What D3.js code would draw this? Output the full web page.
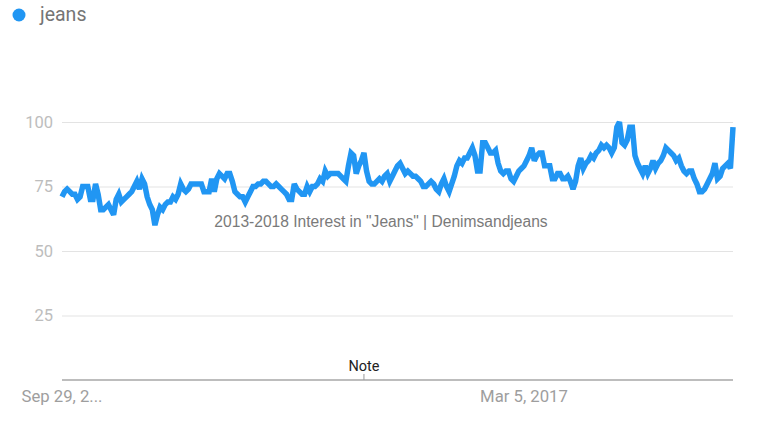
<!DOCTYPE html>
<html>
<head>
<meta charset="utf-8">
<script src="https://cdnjs.cloudflare.com/ajax/libs/d3/7.8.5/d3.min.js"></script>
<style>
  body { margin: 0; background: #fff; }
  #chart { width: 768px; height: 444px; }
  text { font-family: Roboto, "Noto Sans", sans-serif; }
</style>
</head>
<body>
<div id="chart"></div>
<script>
// weekly interest values, starting Sep 29, 2013
var seriesName = "jeans";
var startDate = "2013-09-29";
var weeklyValues = [
  71, 73, 74, 73, 72, 72, 70, 71, 75, 75,
  75, 70, 70, 76, 72, 66, 66, 67, 68, 66,
  64, 70, 72, 69, 70, 71, 72, 73, 75, 77,
  74, 78, 76, 71, 68, 66, 60, 64, 67, 66,
  68, 69, 69, 71, 70, 72, 76, 74, 73, 74,
  76, 76, 76, 76, 76, 73, 73, 73, 78, 73,
  78, 80, 79, 78, 80, 80, 77, 73, 72, 71,
  71, 69, 71, 73, 75, 75, 76, 76, 77, 77,
  76, 75, 75, 76, 75, 74, 73, 72, 70, 70,
  76, 74, 73, 72, 72, 75, 73, 75, 75, 76,
  78, 77, 81, 79, 80, 80, 80, 80, 79, 78,
  77, 83, 88, 87, 80, 83, 85, 88, 81, 77,
  76, 76, 77, 78, 77, 79, 80, 77, 79, 81,
  83, 84, 82, 80, 81, 80, 79, 79, 78, 77,
  75, 75, 76, 77, 76, 74, 73, 76, 78, 75,
  73, 76, 79, 83, 85, 84, 86, 86, 88, 90,
  87, 81, 81, 92, 92, 90, 88, 88, 89, 84,
  81, 80, 81, 81, 78, 77, 79, 81, 82, 83,
  85, 87, 90, 85, 87, 88, 88, 83, 83, 83,
  78, 78, 80, 80, 78, 78, 79, 77, 74, 77,
  83, 86, 82, 84, 85, 87, 86, 88, 89, 91,
  90, 91, 90, 88, 90, 98, 100, 92, 91, 93,
  98, 98, 87, 84, 82, 80, 83, 80, 82, 85,
  82, 84, 85, 87, 90, 89, 88, 87, 85, 86,
  83, 81, 80, 81, 81, 78, 76, 73, 73, 74,
  76, 78, 80, 84, 78, 79, 82, 83, 84, 82,
  98
];
var yTicks = [25, 50, 75, 100];
var xTickDates = ["2013-09-29", "2017-03-05"];
var xTickLabels = ["Sep 29, 2...", "Mar 5, 2017"];
var noteDate = "2015-12-27";
var noteLabel = "Note";
var watermark = "2013-2018 Interest in \"Jeans\" | Denimsandjeans";

var parseDate = d3.timeParse("%Y-%m-%d");
var first = parseDate(startDate);
var data = weeklyValues.map(function(v, i) {
  return { date: d3.timeWeek.offset(first, i), value: v };
});

var width = 768, height = 444;
var margin = { top: 122, right: 35, bottom: 64, left: 62 };
var lineColor = "#2196f3";

var svg = d3.select("#chart").append("svg")
  .attr("width", width)
  .attr("height", height);

var xScale = d3.scaleTime()
  .domain(d3.extent(data, function(d) { return d.date; }))
  .range([margin.left, width - margin.right]);

var yScale = d3.scaleLinear()
  .domain([0, 100])
  .range([height - margin.bottom, margin.top]);

// legend
svg.append("circle")
  .attr("cx", 19)
  .attr("cy", 15)
  .attr("r", 6.5)
  .style("fill", lineColor);
svg.append("text")
  .attr("x", 40)
  .attr("y", 21)
  .style("font-size", "19.5px")
  .style("fill", "#757575")
  .text(seriesName);

// horizontal grid + y labels
var yAxis = d3.axisLeft(yScale)
  .tickValues(yTicks)
  .tickSize(-(width - margin.right - margin.left))
  .tickPadding(9);

var gy = svg.append("g")
  .attr("transform", "translate(" + margin.left + ",0)")
  .call(yAxis);
gy.select(".domain").remove();
gy.selectAll(".tick line").style("stroke", "#e3e3e3");
gy.selectAll(".tick text")
  .style("font-size", "16.5px")
  .style("fill", "#bdbdbd")
  .attr("font-family", "Roboto, sans-serif");

// bottom axis line
svg.append("line")
  .attr("x1", margin.left)
  .attr("x2", width - margin.right)
  .attr("y1", yScale(0))
  .attr("y2", yScale(0))
  .style("stroke", "#bdbdbd")
  .style("stroke-width", 2);

// date labels
svg.selectAll(".xlabel")
  .data(xTickDates)
  .enter()
  .append("text")
  .attr("class", "xlabel")
  .attr("x", function(d) { return xScale(parseDate(d)); })
  .attr("y", yScale(0) + 22)
  .style("text-anchor", "middle")
  .style("font-size", "16.7px")
  .style("fill", "#9e9e9e")
  .text(function(d, i) { return xTickLabels[i]; });

// note marker
var noteX = xScale(parseDate(noteDate));
svg.append("line")
  .attr("x1", noteX)
  .attr("x2", noteX)
  .attr("y1", yScale(0) - 6)
  .attr("y2", yScale(0))
  .style("stroke", "#999")
  .style("stroke-width", 1);
svg.append("text")
  .attr("x", noteX)
  .attr("y", yScale(0) - 9)
  .style("text-anchor", "middle")
  .style("font-size", "14.5px")
  .style("fill", "#222")
  .text(noteLabel);

// the series
var line = d3.line()
  .x(function(d) { return xScale(d.date); })
  .y(function(d) { return yScale(d.value); });

svg.append("path")
  .datum(data)
  .attr("d", line)
  .style("fill", "none")
  .style("stroke", lineColor)
  .style("stroke-width", 5.5)
  .style("stroke-linejoin", "miter")
  .style("stroke-miterlimit", 3);

// watermark text on top
svg.append("text")
  .attr("x", 381)
  .attr("y", 227)
  .style("text-anchor", "middle")
  .style("font-family", "'Liberation Sans', Arial, sans-serif")
  .style("font-size", "15.6px")
  .style("fill", "#7a7a7a")
  .text(watermark);
</script>
</body>
</html>
